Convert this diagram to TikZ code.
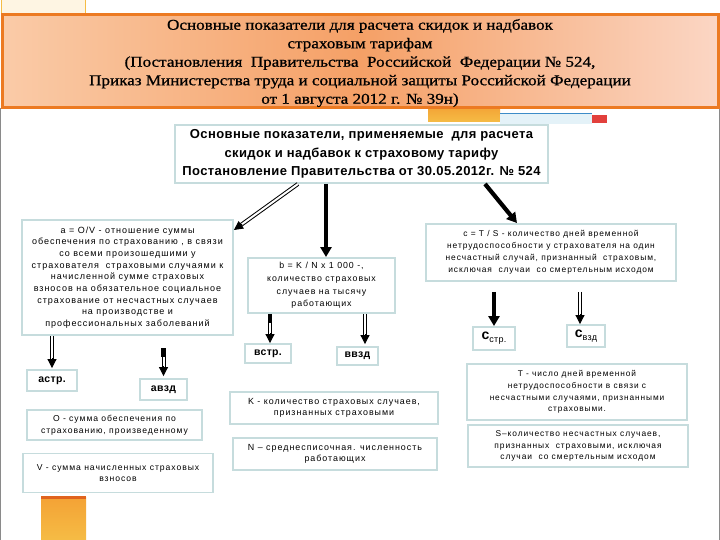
\documentclass[tikz,border=0pt]{standalone}
\usepackage{fontspec}
\setmainfont{Liberation Sans}
\newfontfamily\bodyfont[LetterSpace=11]{Liberation Sans}
\newfontfamily\headfont[LetterSpace=3]{Liberation Sans}
\newfontfamily\bannerfont[FakeStretch=1.14,FakeBold=0.8]{Liberation Serif}
\usetikzlibrary{arrows.meta,calc}
\definecolor{boxline}{HTML}{C6DCDD}
\definecolor{bannerline}{HTML}{EC7A22}
\definecolor{peachA}{HTML}{FACBA8}
\definecolor{peachB}{HTML}{F5A066}
\definecolor{peachC}{HTML}{FBD6C4}
\definecolor{orangebar}{HTML}{F4A235}
\definecolor{orangedark}{HTML}{E0641E}
\definecolor{orangelight}{HTML}{F5BC45}
\definecolor{bluebar}{HTML}{E4F2F8}
\definecolor{blueline}{HTML}{3C8CC8}
\definecolor{redsq}{HTML}{E2403C}
\definecolor{edgegray}{HTML}{8A8A8A}
\tikzset{
  infobox/.style={draw=boxline, line width=1.9pt, fill=white, align=center, inner sep=0pt,
    font=\bodyfont\fontsize{8.6}{11.7}\selectfont},
  labelbox/.style={draw=boxline, line width=1.9pt, fill=white, align=center, inner sep=0pt,
    font=\headfont\bfseries\fontsize{10.5}{12}\selectfont},
  thickarr/.style={line width=4.2pt, -{Triangle[length=10pt,width=11pt]}},
  thickseg/.style={line width=4.2pt},
  dblline/.style={double, double distance=2pt, line width=1pt},
  tipline/.style={line width=1pt, -{Triangle[length=9pt,width=9pt]}},
}
\newcommand{\dblarrow}[2]{%
  \draw[dblline, shorten >=7pt] #1 -- #2;
  \draw[tipline] ($#2!10pt!#1$) -- #2;
}
\begin{document}
\begin{tikzpicture}[x=1pt,y=-1pt]
\useasboundingbox (0,0) rectangle (720,540);
\fill[white] (0,0) rectangle (720,540);
% logo at top left (partly hidden)
\draw[line width=1pt, draw=orangelight, fill=orangelight!15] (1,0) rectangle (85,16);
% edges
\draw[edgegray, line width=1pt] (0.5,108) -- (0.5,540);
\draw[edgegray, line width=1pt] (719.5,108) -- (719.5,540);
% decorative bars under banner
\shade[top color=orangebar, bottom color=orangelight] (428,106) rectangle (500,122);
\fill[bluebar] (500,113) rectangle (592,124);
\draw[blueline, line width=1.6pt] (500,113.5) -- (592,113.5);
\fill[redsq] (592,115) rectangle (607,123);
% bottom orange bar
\shade[top color=orangebar, bottom color=orangelight] (41,497) rectangle (86,540);
\fill[orangedark] (41,496) rectangle (86,499);
% banner
\shade[left color=peachA, right color=peachC, middle color=peachB] (2,15) rectangle (718,108);
\draw[bannerline, line width=3pt] (2,15) rectangle (718,108);
\node[align=center, font=\bannerfont\fontsize{15}{18.5}\selectfont] (banner) at (360,63)
  {Основные показатели для расчета скидок и надбавок\\
   страховым тарифам\\
   (Постановления\ \ Правительства\ \ Российской\ \ Федерации № 524,\\
   Приказ Министерства труда и социальной защиты Российской Федерации\\
   от 1 августа 2012 г. № 39н)};
% main box
\node[draw=boxline, line width=1.9pt, fill=white, align=center, inner sep=0pt,
  minimum width=373pt, minimum height=58pt,
  font=\headfont\bfseries\fontsize{13}{18.5}\selectfont] (mainbox) at (361.5,154)
  {Основные показатели, применяемые\ \ для расчета\\
   скидок и надбавок к страховому тарифу\\
   Постановление Правительства от 30.05.2012г. № 524};
% box a
\node[infobox, minimum width=211pt, minimum height=115pt, font=\bodyfont\fontsize{9}{11.7}\selectfont] (boxa) at (127.5,277.5)
  {a = O/V - отношение суммы\\
   обеспечения по страхованию , в связи\\
   со всеми произошедшими у\\
   страхователя\ \ страховыми случаями к\\
   начисленной сумме страховых\\
   взносов на обязательное социальное\\
   страхование от несчастных случаев\\
   на производстве и\\
   профессиональных заболеваний};
% box b
\node[infobox, minimum width=147pt, minimum height=55pt, font=\bodyfont\fontsize{8.8}{12.7}\selectfont] (boxb) at (321.5,285.5)
  {b = K / N x 1 000 -,\\
   количество страховых\\
   случаев на тысячу\\
   работающих};
% box c
\node[infobox, minimum width=250pt, minimum height=57pt, font=\bodyfont\fontsize{8.4}{12}\selectfont] (boxc) at (551,252.5)
  {c = T / S - количество дней временной\\
   нетрудоспособности у страхователя на один\\
   несчастный случай, признанный\ \ страховым,\\
   исключая\ \ случаи\ \ со смертельным исходом};
% small label boxes
\node[labelbox, minimum width=46pt, minimum height=19pt] (bstr) at (268,353.5) {встр.};
\node[labelbox, minimum width=41pt, minimum height=18pt] (bvzd) at (357.5,356) {ввзд};
\node[labelbox, minimum width=50pt, minimum height=21pt] (astr) at (52,380.5) {астр.};
\node[labelbox, minimum width=47pt, minimum height=21pt] (avzd) at (163.5,389.5) {авзд};
\node[labelbox, minimum width=42pt, minimum height=23pt] (cstr) at (494,338.5)
  {{\fontsize{14}{14}\selectfont c}{\fontsize{9}{9}\mdseries\selectfont\raisebox{-3pt}{стр.}}};
\node[labelbox, minimum width=38pt, minimum height=22pt] (cvzd) at (586,336)
  {{\fontsize{14}{14}\selectfont c}{\fontsize{9}{9}\mdseries\selectfont\raisebox{-3pt}{взд}}};
% definition boxes
\node[infobox, minimum width=175pt, minimum height=30pt] (boxo) at (114.5,425)
  {O - сумма обеспечения по\\ страхованию, произведенному};
\node[infobox, minimum width=190pt, minimum height=39pt] (boxv) at (118,473)
  {V - сумма начисленных страховых\\ взносов};
\node[infobox, minimum width=208pt, minimum height=32pt, font=\bodyfont\fontsize{8.9}{11.7}\selectfont] (boxk) at (334,408)
  {K - количество страховых случаев,\\ признанных страховыми};
\node[infobox, minimum width=204pt, minimum height=32pt, font=\bodyfont\fontsize{8.9}{11.7}\selectfont] (boxn) at (335,454)
  {N – среднесписочная. численность\\ работающих};
\node[infobox, minimum width=220pt, minimum height=56pt, font=\bodyfont\fontsize{8.3}{11.7}\selectfont] (boxt) at (577,392)
  {T - число дней временной\\ нетрудоспособности в связи с\\ несчастными случаями, признанными\\ страховыми.};
\node[infobox, minimum width=220pt, minimum height=42pt, font=\bodyfont\fontsize{8.4}{11.2}\selectfont] (boxs) at (578,446)
  {S–количество несчастных случаев,\\ признанных\ \ страховыми, исключая\\ случаи\ \ со смертельным исходом};
% connector end points
\coordinate (la1) at (mainbox.south -| 298,0);
\coordinate (la2) at (boxa.east |- 0,230);
\coordinate (aa1) at (boxa.south -| astr.north);
\coordinate (aa2) at ([yshift=1pt]astr.north);
\coordinate (av1) at (avzd.north |- 0,348);
\coordinate (av2) at (avzd.north |- 0,357);
\coordinate (av3) at ([yshift=2pt]avzd.north);
\coordinate (bs1) at (boxb.south -| 270,0);
\coordinate (bs2) at (270,323);
\coordinate (bs3) at (bstr.north -| 270,0);
\coordinate (bv1) at (boxb.south -| 365,0);
\coordinate (bv2) at ([yshift=2pt]bvzd.north -| 365,0);
\coordinate (cv1) at ([yshift=-10pt]boxc.south -| 580,0);
\coordinate (cv2) at (cvzd.north -| 580,0);
\coordinate (cs1) at ([yshift=-10pt]boxc.south -| cstr.north);
% arrows from main box
\dblarrow{(la1)}{(la2)}
\draw[thickarr] (mainbox.south -| 326,0) -- (boxb.north -| 326,0);
\draw[thickarr] (mainbox.south -| 485,0) -- (boxc.north -| 517,0);
% arrows from box a
\dblarrow{(aa1)}{(aa2)}
\draw[thickseg] (av1) -- (av2);
\dblarrow{(av2)}{(av3)}
% arrows from box b
\draw[thickseg] (bs1) -- (bs2);
\dblarrow{(bs2)}{(bs3)}
\dblarrow{(bv1)}{(bv2)}
% arrows from box c
\draw[thickarr] (cs1) -- (cstr.north);
\dblarrow{(cv1)}{(cv2)}
\end{tikzpicture}
\end{document}
